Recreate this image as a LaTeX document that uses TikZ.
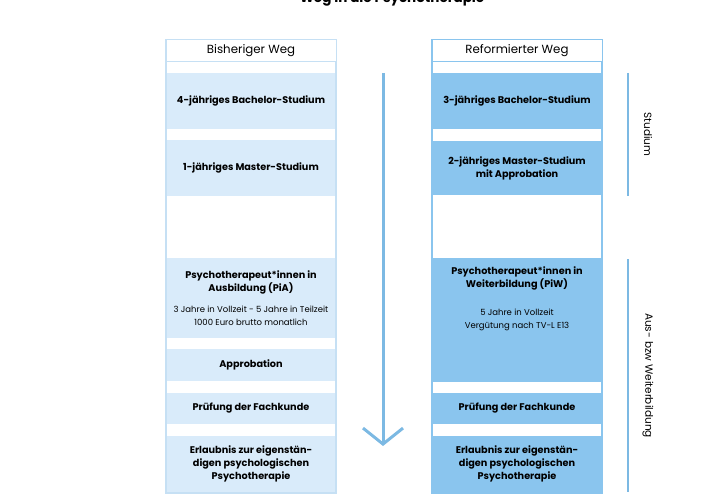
\documentclass[tikz,border=0pt]{standalone}
\usepackage{fontspec}
\setmainfont{Poppins}
\usetikzlibrary{arrows.meta}

\definecolor{oldfill}{HTML}{D9EBFA}
\definecolor{oldline}{HTML}{C6E0F4}
\definecolor{newfill}{HTML}{8AC5EE}
\definecolor{newline}{HTML}{8AC5EE}
\definecolor{pathblue}{HTML}{7CB9E3}
\newcommand{\detailfont}{\fontsize{8.5}{11}\selectfont\mdseries}

\begin{document}
\begin{tikzpicture}[x=1pt, y=-1pt,
    stage/.style={minimum width=170pt, inner sep=0pt, align=center, font=\fontsize{9.7}{13}\selectfont\bfseries},
    oldstage/.style={stage, fill=oldfill},
    newstage/.style={stage, fill=newfill},
    frame/.style={draw, line width=1.5pt, minimum width=170pt, minimum height=453pt, inner sep=0pt},
    header/.style={draw, fill=white, line width=1pt, minimum width=170pt, minimum height=22pt, inner sep=0pt, font=\fontsize{11.8}{13}\selectfont},
    side/.style={rotate=-90, font=\fontsize{10.5}{12}\selectfont},
    bracket/.style={pathblue, line width=1.2pt}]
    \useasboundingbox (0,0) rectangle (720,500);
    % title
    \node[anchor=base, font=\fontsize{13.5}{15}\selectfont\bfseries] (title) at (392,3) {Weg in die Psychotherapie};

    % old path
    \node[oldstage, minimum height=56pt] (oldBachelor) at (251,101) {4-jähriges Bachelor-Studium};
    \node[oldstage, minimum height=56pt] (oldMaster) at (251,168) {1-jähriges Master-Studium};
    \node[oldstage, minimum height=80pt] (oldPiA) at (251,298) {Psychotherapeut*innen in\\Ausbildung (PiA)\\[8pt]
        {\detailfont 3 Jahre in Vollzeit - 5 Jahre in Teilzeit}\\{\detailfont 1000 Euro brutto monatlich}};
    \node[oldstage, minimum height=32pt] (oldApprobation) at (251,365) {Approbation};
    \node[oldstage, minimum height=31pt] (oldExam) at (251,408.5) {Prüfung der Fachkunde};
    \node[oldstage, minimum height=56pt] (oldLicence) at (251,464) {Erlaubnis zur eigenstän-\\digen psychologischen\\Psychotherapie};
    \node[frame, draw=oldline] (oldFrame) at (251,266.5) {};
    \node[header, draw=oldline] (oldHeader) at (251,51) {Bisheriger Weg};

    % new path
    \node[newstage, minimum height=56pt] (newBachelor) at (517,101) {3-jähriges Bachelor-Studium};
    \node[newstage, minimum height=54pt] (newMaster) at (517,168) {2-jähriges Master-Studium\\mit Approbation};
    \node[newstage, minimum height=124pt] (newPiW) at (517,320) {};
    \node[stage, anchor=north] (newPiWText) at (517,267) {Psychotherapeut*innen in\\Weiterbildung (PiW)\\[15pt]
        {\detailfont 5 Jahre in Vollzeit}\\{\detailfont Vergütung nach TV-L E13}};
    \node[newstage, minimum height=31pt] (newExam) at (517,408.5) {Prüfung der Fachkunde};
    \node[newstage, minimum height=56pt] (newLicence) at (517,464) {Erlaubnis zur eigenstän-\\digen psychologischen\\Psychotherapie};
    \node[frame, draw=newline] (newFrame) at (517,266.5) {};
    \node[header, draw=newline] (newHeader) at (517,51) {Reformierter Weg};

    % time arrow
    \coordinate (timeStart) at (383,73);
    \coordinate (timeEnd) at (383,446);
    \draw[pathblue, line width=3pt, -{Straight Barb[length=16pt, width=40pt]}] (timeStart) -- (timeEnd);

    % phases
    \coordinate (studyTop) at (628,73);
    \coordinate (studyEnd) at (628,196);
    \coordinate (trainTop) at (628,259);
    \coordinate (trainEnd) at (628,492);
    \draw[bracket] (studyTop) -- (studyEnd)
        (trainTop) -- (trainEnd);
    \node[side] (studyLabel) at (648,134.5) {Studium};
    \node[side] (trainLabel) at (648,375.5) {Aus- bzw Weiterbildung};
\end{tikzpicture}
\end{document}
